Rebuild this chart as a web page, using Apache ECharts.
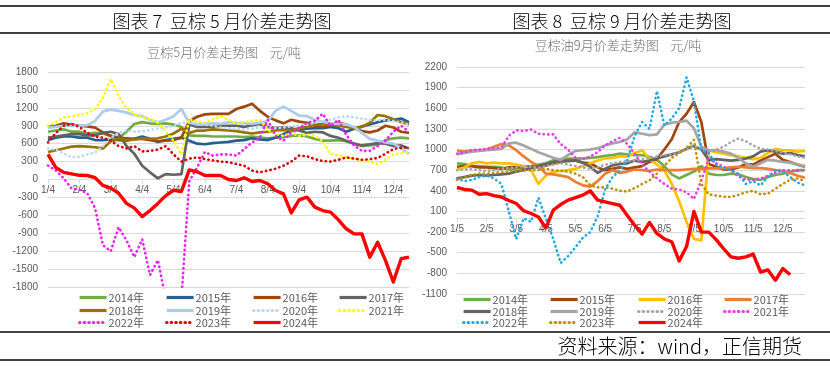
<!DOCTYPE html>
<html><head><meta charset="utf-8">
<script src="https://cdn.jsdelivr.net/npm/echarts@6/dist/echarts.min.js"></script>
<style>html,body{margin:0;padding:0;background:#fff}#c{width:830px;height:367px}</style>
</head><body><div id="c"></div>
<script>
// ---------- categories / tick labels ----------
const leftCategories = ['1/4','1/11','1/18','1/25','2/4','2/11','2/18','2/25','3/4','3/11','3/18','3/25','4/4','4/11','4/18','4/25','5/4','5/11','5/18','5/25','6/4','6/11','6/18','6/25','7/4','7/11','7/18','7/25','8/4','8/11','8/18','8/25','9/4','9/11','9/18','9/25','10/4','10/11','10/18','10/25','11/4','11/11','11/18','11/25','12/4','12/11','12/18'];
const rightCategories = ['1/5','1/12','1/19','1/26','2/5','2/12','2/19','2/26','3/5','3/12','3/19','3/26','4/5','4/12','4/19','4/26','5/5','5/12','5/19','5/26','6/5','6/12','6/19','6/26','7/5','7/12','7/19','7/26','8/5','8/12','8/19','8/26','9/5','9/12','9/19','9/26','10/5','10/12','10/19','10/26','11/5','11/12','11/19','11/26','12/5','12/12','12/19','12/26'];
const leftYTicks = {min: -1800, max: 1800, step: 300};
const rightYTicks = {min: -1100, max: 2200, step: 300};

// ---------- left chart: 豆棕5月价差 ----------
const L2014 = [800,820,840,800, 800,770,780,770, 730,690,800,930, 960,940,930,940, 920,880,740,730, 730,720,720,720, 720,710,720,700, 690,700,710,730, 740,720,680,650, 650,660,640,600, 560,570,580,660, 690,700,690];
const L2015 = [660,700,720,720, 700,700,660,660, 670,660,650,680, 720,680,630,660, 680,700,650,600, 590,610,620,630, 650,660,690,670, 660,700,760,820, 830,850,860,860, 880,860,800,850, 890,920,960,990, 1000,1020,960];
const L2016 = [880,900,940,920, 900,890,870,790, 730,700,690,680, 680,660,640,650, 660,700,980,1050, 1090,1100,1100,1100, 1180,1220,1270,1150, 1050,990,940,1000, 970,950,900,880, 910,950,920,860, 810,790,820,900, 870,800,780];
const L2017 = [700,720,740,760, 760,740,740,780, 800,760,560,430, 230,120,20,90, 80,90,920,880, 880,880,900,900, 900,880,910,930, 880,860,870,860, 820,780,800,790, 730,700,650,600, 570,590,610,600, 560,570,520];
const L2018 = [460,490,520,550, 560,550,540,520, 640,680,660,670, 690,680,690,720, 770,850,780,820, 820,840,830,820, 810,790,770,790, 800,820,830,820, 860,880,920,930, 920,900,880,860, 880,950,1080,1060, 1010,960,920];
const L2019 = [870,880,900,900, 900,910,980,1140, 1170,1150,1120,1080, 1060,1000,960,1000, 1060,1180,950,920, 930,940,930,960, 950,940,930,950, 980,1150,1220,1150, 1070,1060,1000,970, 940,930,920,880, 780,680,650,620, 600,520,430];
const L2020 = [520,500,440,370, 380,420,450,560, 700,780,820,800, 810,830,850,870, 900,950,960,940, 920,900,870,860, 850,840,850,870, 880,860,870,890, 900,920,950,980, 1000,1040,1060,1040, 1020,1000,990,1000, 980,950,920];
const L2021 = [900,960,1040,1060, 1080,1110,1180,1370, 1680,1400,1200,1095, 1040,1010,950,800, 650,420,1010,970, 950,1010,1060,1000, 930,960,980,1000, 830,760,730,780, 730,750,730,640, 430,400,370,345, 320,300,260,330, 420,440,460];
const L2022 = [234,150,20,-150, -170,-230,-480,-1100, -1200,-800,-1020,-1300, -1000,-1600,-1350,-2000, -2200,-2000,-30,200, 460,400,420,420, 400,510,620,700, 1000,730,650,790, 850,950,980,1100, 900,1000,750,570, 480,480,560,650, 800,900,800];
const L2023 = [620,780,900,930, 880,780,720,700, 650,560,520,560, 470,480,500,560, 420,300,350,370, 340,320,300,290, 260,230,150,120, 150,180,230,300, 400,390,340,310, 300,330,370,350, 330,340,360,430, 510,530,540];
const L2024 = [420,200,120,95, 70,67,30,-100, -145,-230,-400,-480, -620,-520,-400,-270, -180,-200,160,130, 67,67,67,0, -17,28,-33,-17, -72,-184,-240,-560, -340,-295,-463,-520, -546,-675,-825,-910, -910,-1300,-1050,-1355, -1717,-1327,-1300];

// ---------- right chart: 豆棕油9月价差 ----------
const R2014 = [800,790,760,760, 750,750,740,710, 720,750,760,780, 800,845,860,870, 870,870,880,890, 910,920,940,930, 920,920,890,850, 760,640,580,630, 680,760,650,630, 630,650,640,600, 570,560,600,630, 650,680,700,700];
const R2015 = [750,760,760,740, 740,730,720,740, 750,740,750,740, 770,800,820,840, 840,810,800,740, 700,720,740,720, 740,760,820,860, 1000,1150,1400,1520, 1690,1400,790,750, 710,710,740,790, 780,840,890,940, 850,820,780,750];
const R2016 = [710,740,800,820, 800,810,800,800, 780,760,700,500, 620,680,690,700, 720,760,800,840, 870,880,900,900, 950,990,860,780, 700,500,250,-50, -300,-320,990,960, 940,920,900,880, 860,880,950,1010, 990,990,970,980];
const R2017 = [980,970,980,990, 1000,1040,1080,1060, 990,900,820,760, 650,640,620,600, 530,480,460,540, 650,700,660,680, 710,700,690,710, 700,700,700,710, 720,720,725,725, 730,740,750,740, 730,730,720,700, 690,660,620,590];
const R2018 = [580,600,620,630, 620,630,640,650, 680,700,730,760, 790,820,840,830, 840,810,750,660, 720,770,790,800, 840,820,840,870, 900,930,960,1010, 1050,1000,850,860, 850,840,850,870, 900,970,990,970, 940,950,920,900];
const R2019 = [930,950,970,980, 990,1000,1010,1090, 1100,1060,1010,960, 920,880,850,920, 980,990,1000,1020, 1060,1090,1110,1150, 1250,1230,1210,1220, 1360,1390,1400,1420, 1310,1040,990,990, 970,940,880,800, 750,800,850,840, 820,810,780,760];
const R2020 = [700,710,720,700, 690,700,720,730, 740,760,750,730, 760,780,800,780, 760,740,720,740, 780,800,820,830, 840,860,880,900, 920,930,960,1000, 1050,1000,960,1000, 1040,1110,1160,1120, 1060,1010,1000,980, 960,930,900,880];
const R2021 = [940,960,990,1000, 1010,1020,1030,1200, 1280,1270,1290,1230, 1220,1220,1080,1000, 880,860,900,960, 1060,1120,1170,1080, 940,780,680,580, 500,430,420,380, 280,550,870,800, 750,700,610,560, 560,580,620,660, 700,700,690,700];
const R2022 = [580,540,560,600, 620,580,500,100, -300,0,-50,300, 0,-300,-650,-550, -420,-280,-200,30, 420,600,700,850, 1200,1400,1300,1850, 1350,1450,1600,2050, 1700,1000,950,780, 720,700,650,500, 540,480,600,700, 680,600,520,480];
const R2023 = [560,600,630,650, 650,660,670,680, 690,700,700,700, 720,700,690,680, 650,600,480,450, 450,430,400,390, 440,500,550,650, 760,880,950,1020, 1140,500,350,330, 315,310,340,380, 400,350,360,430, 500,560,580,540];
const R2024 = [448,420,410,350, 360,330,310,260, 215,110,70,20, -140,120,200,265, 300,337,400,265, 240,215,190,40, -100,-230,-60,-220, -300,-340,-620,-410, 100,-200,-200,-310, -440,-560,-580,-560, -520,-780,-750,-900, -730,-820,null,null];

const leftNames = ['2014年','2015年','2016年','2017年','2018年','2019年','2020年','2021年','2022年','2023年','2024年'];
const rightNames = ['2014年','2015年','2016年','2017年','2018年','2019年','2020年','2021年','2022年','2023年','2024年'];
const leftData = [L2014,L2015,L2016,L2017,L2018,L2019,L2020,L2021,L2022,L2023,L2024];
const rightData = [R2014,R2015,R2016,R2017,R2018,R2019,R2020,R2021,R2022,R2023,R2024];

// ---------- styles ----------
const leftStyle = [
  {c:'#70AD47'},{c:'#255E91'},{c:'#9E480E'},{c:'#636363'},{c:'#997300'},{c:'#ADCBEA'},
  {c:'#BDD7EE',d:1},{c:'#FFFF00',d:1},{c:'#EE22EE',d:1},{c:'#D80000',d:1},{c:'#FF0000',w:3.4}
];
const rightStyle = [
  {c:'#70AD47'},{c:'#9E480E'},{c:'#FFC000'},{c:'#ED7D31'},{c:'#636363'},{c:'#A5A5A5'},
  {c:'#A5A5A5',d:1},{c:'#E83EE8',d:1},{c:'#1FAAE6',d:1},{c:'#BF9000',d:1},{c:'#FF0000',w:3.4}
];
const FONT = '"Liberation Sans","Noto Sans CJK SC",sans-serif';
const CJK = '"Noto Sans CJK SC",sans-serif';

function mkSeries(prefix, names, datas, styles, idx) {
  return names.map((n, i) => {
    const s = styles[i];
    return {
      name: prefix + n, type: 'line', xAxisIndex: idx, yAxisIndex: idx,
      data: datas[i], symbol: 'circle', symbolSize: 0, showSymbol: false,
      clip: true, connectNulls: false, animation: false, silent: true,
      z: 2 + i * 0.1,
      itemStyle: {color: s.c},
      lineStyle: s.d ? {color: s.c, width: 2.6, type: [0.4, 4.2], cap: 'round', join: 'round'}
                     : {color: s.c, width: s.w || 2.7, type: 'solid', join: 'round'},
      emphasis: {disabled: true}
    };
  });
}

function mkLegends(prefix, names, cols, rows) {
  return names.map((n, i) => ({
    show: true, left: cols[i % 4], top: rows[Math.floor(i / 4)] - 6,
    padding: 0, itemGap: 0, itemWidth: 27, itemHeight: 12, selectedMode: false,
    data: [prefix + n], formatter: nm => nm.slice(1),
    textStyle: {fontSize: 11, color: '#595959', fontFamily: CJK, padding: [0, 0, 0, -3]},
    lineStyle: {width: 3.2}, itemStyle: {opacity: 0}
  }));
}

// the category axis sits on the zero line: offset it up from the grid bottom
function xAxis(cats, idx, zeroOffset) {
  return {
    type: 'category', gridIndex: idx, data: cats, boundaryGap: false,
    position: 'bottom', offset: -zeroOffset,
    axisLine: {show: true, onZero: false, lineStyle: {color: '#D9D9D9', width: 1}},
    axisTick: {show: true, interval: 3, length: 4, lineStyle: {color: '#D9D9D9'}},
    axisLabel: {interval: 3, fontSize: 10, color: '#595959', margin: 6, fontFamily: FONT},
    splitLine: {show: false}
  };
}
function yAxis(t, idx) {
  return {
    type: 'value', gridIndex: idx, min: t.min, max: t.max, interval: t.step,
    axisLine: {show: false}, axisTick: {show: false},
    axisLabel: {fontSize: 10, color: '#595959', margin: 10, fontFamily: FONT, formatter: v => String(v)},
    splitLine: {show: true, lineStyle: {color: '#D9D9D9', width: 1}}
  };
}

function txt(text, x, y, size, color, align, weight) {
  const w = weight || 'normal';
  return {type: 'text', silent: true, z: 100, style: {
    text: text, x: x, y: y, fill: color, font: w + ' ' + size + 'px ' + CJK,
    fontSize: size, fontFamily: CJK, fontWeight: w,
    align: align || 'center', textAlign: align || 'center',
    verticalAlign: 'middle', textVerticalAlign: 'middle'}};
}
function hline(y) {
  return {type: 'line', silent: true, z: 100, shape: {x1: 0, y1: y, x2: 830, y2: y},
    style: {stroke: '#000', lineWidth: 1.5}};
}

// zero position inside each grid (pixels above the grid bottom)
const LH = 215, RH = 227;
const leftZero = LH * (0 - leftYTicks.min) / (leftYTicks.max - leftYTicks.min);
const rightZero = RH * (0 - rightYTicks.min) / (rightYTicks.max - rightYTicks.min);

const chart = echarts.init(document.getElementById('c'), null, {renderer: 'canvas'});
chart.setOption({
  animation: false,
  backgroundColor: '#ffffff',
  textStyle: {fontFamily: FONT},
  grid: [
    {left: 48, top: 72, width: 361, height: LH, containLabel: false},
    {left: 457, top: 67, width: 348, height: RH, containLabel: false}
  ],
  xAxis: [xAxis(leftCategories, 0, leftZero), xAxis(rightCategories, 1, rightZero)],
  yAxis: [yAxis(leftYTicks, 0), yAxis(rightYTicks, 1)],
  legend: mkLegends('L', leftNames, [78,165,252,338], [298,311,323])
    .concat(mkLegends('R', rightNames, [462,549,637,723], [300,312,323])),
  series: mkSeries('L', leftNames, leftData, leftStyle, 0)
    .concat(mkSeries('R', rightNames, rightData, rightStyle, 1)),
  graphic: [
    hline(6), hline(33), hline(332), hline(360),
    txt('图表 7  豆棕 5 月价差走势图', 222, 21, 18, '#000', 'center', '300'),
    txt('图表 8  豆棕 9 月价差走势图', 622, 21, 18, '#000', 'center', '300'),
    txt('豆棕5月价差走势图    元/吨', 224, 52, 13, '#6E6E6E', 'center', '300'),
    txt('豆棕油9月价差走势图    元/吨', 618, 45, 13, '#6E6E6E', 'center', '300'),
    txt('资料来源：wind，正信期货', 802, 346, 20, '#000', 'right', '300')
  ]
});
</script></body></html>
